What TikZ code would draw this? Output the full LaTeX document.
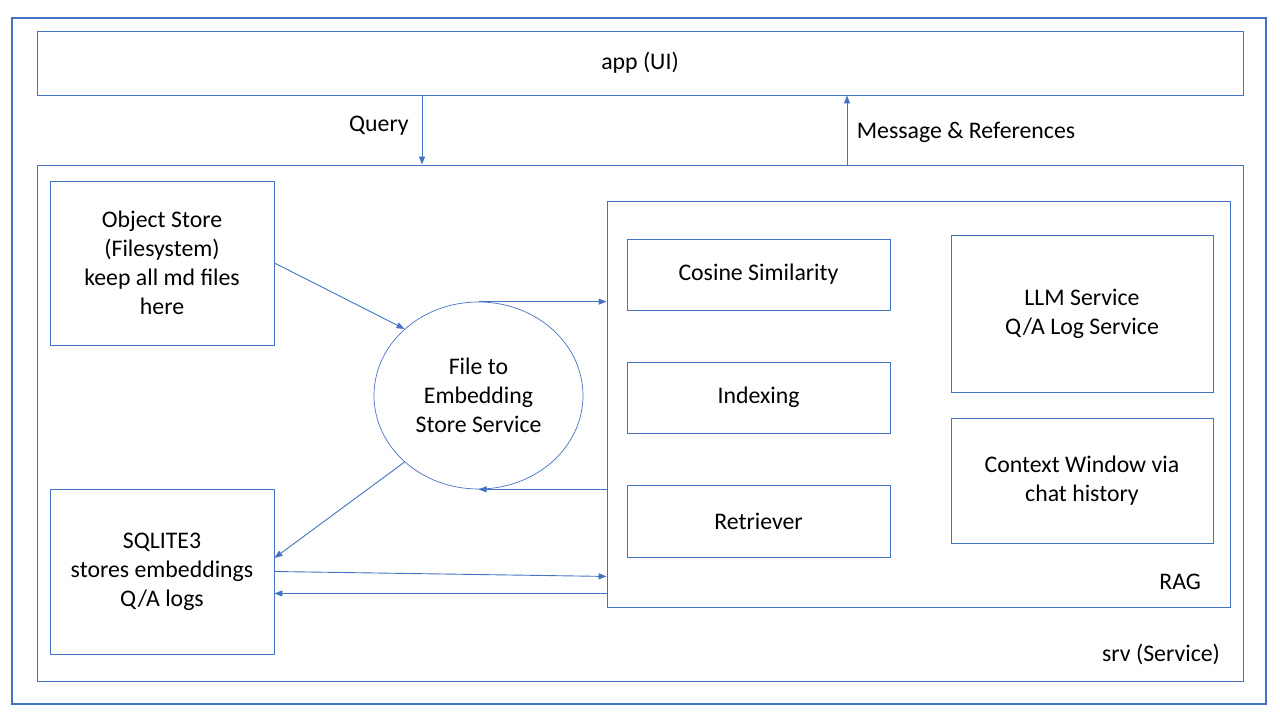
\documentclass[tikz,border=0pt]{standalone}
\usepackage{fontspec}
\setmainfont{Carlito}
\usetikzlibrary{arrows.meta,shapes.geometric}
\definecolor{msblue}{HTML}{4472C4}
\tikzset{>={Triangle[length=8pt,width=6pt]}}
\tikzset{
  box/.style={draw=msblue, line width=0.9pt, align=center, inner sep=0pt},
  flow/.style={->, draw=msblue, line width=0.9pt},
}

\begin{document}
\begin{tikzpicture}[x=1pt,y=1pt,font=\fontsize{23.8}{29}\selectfont]
        \useasboundingbox (0,0) rectangle (1280,720);
        % outer frame and the two layers
        \node[box, line width=1.4pt, minimum width=1254, minimum height=686] (frame) at (639,359) {};
        \node[box, minimum width=1206, minimum height=64] (app) at (640,657) {app (UI)};
        \node[box, minimum width=1206, minimum height=516] (srv) at (640,297) {};
        \node[anchor=base east] (srvlabel) at ([xshift=-20pt,yshift=20pt]srv.south east) {srv (Service)};

        % left column
        \node[box, minimum width=224, minimum height=164] (objstore) at (162,457) {Object Store\\(Filesystem)\\keep all md files\\here};
        \node[box, minimum width=224, minimum height=165] (sqlite) at (162,148.5) {SQLITE3\\stores embeddings\\Q/A logs};
        \node[ellipse, box, line width=0.7pt, minimum width=209, minimum height=187] (embed) at (478.5,324.5) {File to\\Embedding\\Store Service};

        % RAG block
        \node[box, minimum width=623, minimum height=406] (rag) at (918.5,316) {};
        \node[anchor=base east] (raglabel) at ([xshift=-26pt,yshift=18pt]rag.south east) {RAG};
        \node[box, minimum width=263, minimum height=71] (cosine) at (758.5,445.5) {Cosine Similarity};
        \node[box, minimum width=263, minimum height=71] (indexing) at (758.5,322.5) {Indexing};
        \node[box, minimum width=263, minimum height=72] (retriever) at (758.5,199) {Retriever};
        \node[box, minimum width=262, minimum height=157] (llm) at (1082,406.5) {LLM Service\\Q/A Log Service};
        \node[box, minimum width=262, minimum height=125] (context) at (1082,239.5) {Context Window via\\chat history};

        % app <-> srv
        \draw[flow] ([xshift=-218pt]app.south) -- ([xshift=-218pt]srv.north);
        \node (query) at (379,594) {Query};
        \draw[flow] ([xshift=207pt]srv.north) -- ([xshift=207pt]app.south);
        \node (msg) at (966,588) {Message \& References};

        % connectors inside srv
        \draw[flow] (objstore.east) -- (embed.138);
        \draw[flow] (embed.north) -- (embed.north -| rag.west);
        \draw[flow] (embed.south -| rag.west) -- (embed.south);
        \draw[flow] (embed.222) -- ([yshift=13.5pt]sqlite.east);
        \draw[flow] (sqlite.east) -- ([yshift=31pt]rag.south west);
        \draw[flow] ([yshift=14pt]rag.south west) coordinate (back) -- (back -| sqlite.east);
\end{tikzpicture}
\end{document}
